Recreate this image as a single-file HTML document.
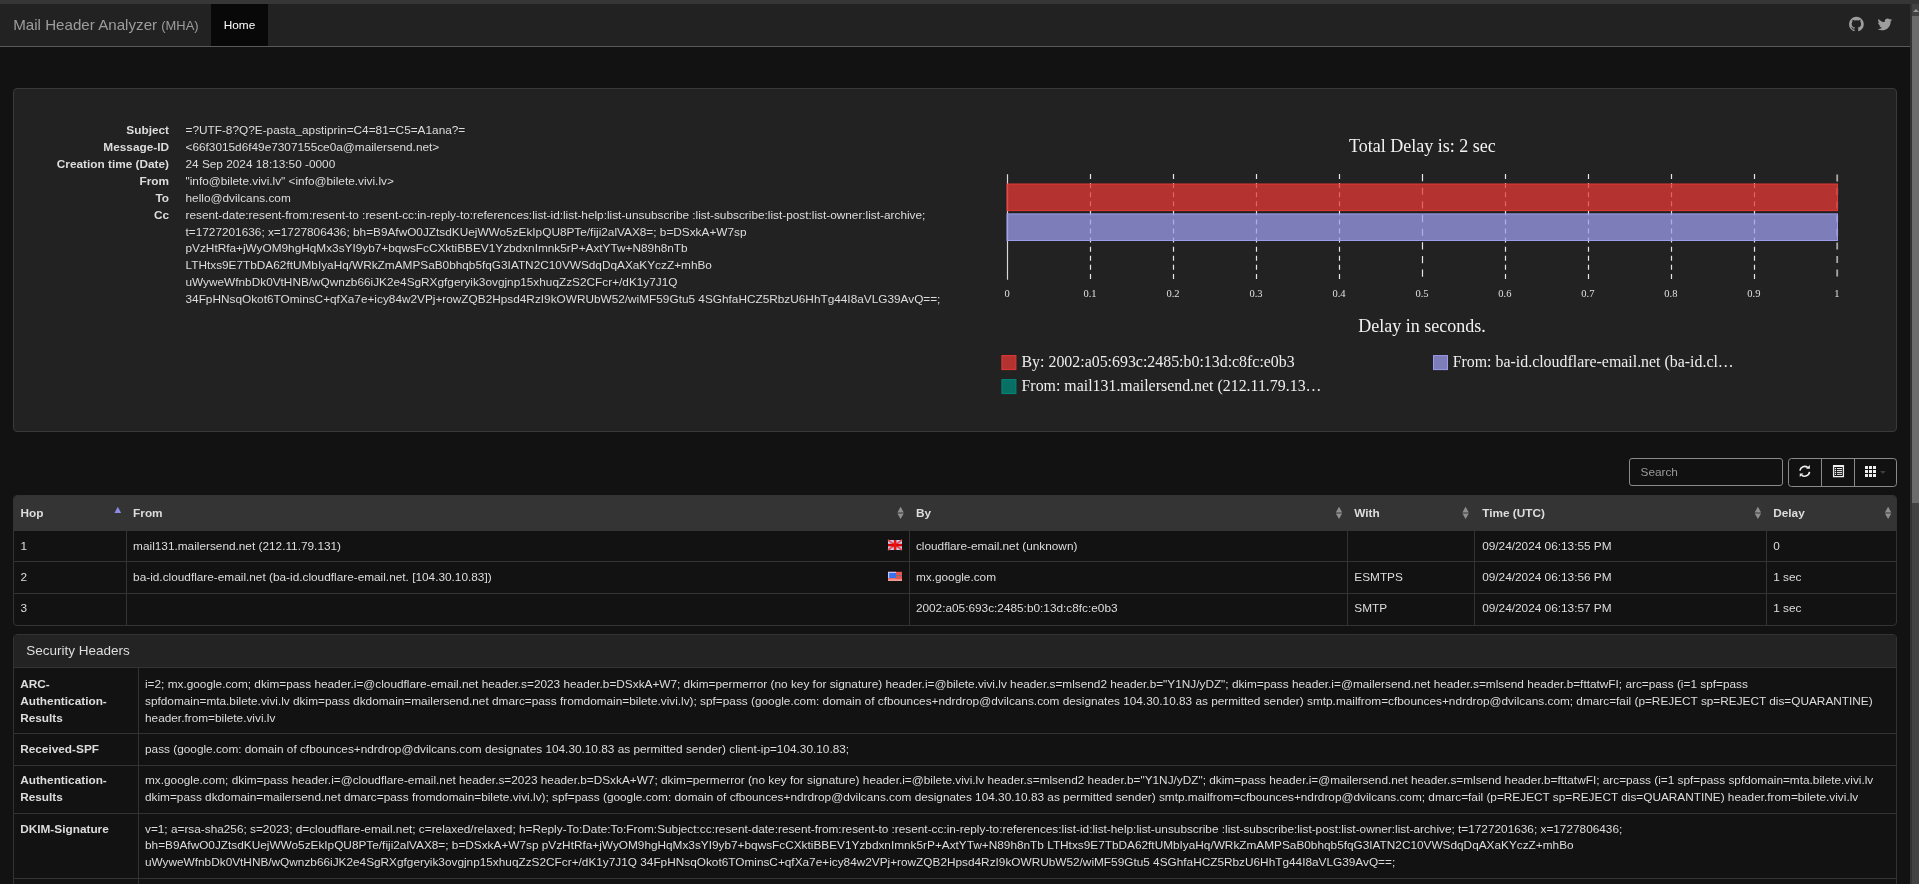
<!DOCTYPE html>
<html><head><meta charset="utf-8"><title>Mail Header Analyzer</title>
<style>
*{box-sizing:border-box}
html,body{margin:0;padding:0}
body{width:1919px;height:884px;overflow:hidden;position:relative;background:#121212;color:#ddd;font-family:"Liberation Sans",sans-serif;font-size:11.82px;line-height:16.886px}
.abs{position:absolute}
#root{position:absolute;left:0;top:0;width:1919px;height:884px;will-change:transform}
#strip{left:0;top:0;width:1919px;height:4px;background:#363636}
#nav{left:0;top:4px;width:1910px;height:42px;background:#222}
#navb{left:0;top:46px;width:1910px;height:1px;background:#5a5a5a}
#brand{left:13.2px;top:4px;height:42px;line-height:42px;font-size:15.15px;color:#9d9d9d;white-space:nowrap}
#brand small{font-size:12.9px}
#home{left:211px;top:4px;width:57px;height:42px;background:#080808;color:#fff;text-align:center;line-height:42px}
#sb{left:1910px;top:4px;width:9px;height:880px;background:#424242}
#sbedge{left:1910px;top:4px;width:2px;height:880px;background:#333}
#sbthumb{left:1912px;top:16px;width:7px;height:487px;background:#6b6b6b}
#sbarrow{left:1912.5px;top:8.5px;width:0;height:0;border-left:3.5px solid transparent;border-right:3.5px solid transparent;border-bottom:3.5px solid #9a9a9a}
#panel{left:13px;top:88px;width:1884px;height:344px;background:#222;border:1px solid #3a3a3a;border-radius:4px}
.dt{position:absolute;left:20px;width:149px;text-align:right;font-weight:bold;white-space:nowrap}
.dd{position:absolute;left:185.5px;white-space:nowrap}
#search{left:1629px;top:458px;width:154px;height:28px;border:1px solid #8a8a8a;border-radius:3px;background:#111;color:#999;padding-left:10.5px;line-height:26px}
#btns{left:1788px;top:458px;width:109px;height:29px;border:1px solid #8a8a8a;border-radius:3.5px;background:#111}
#tbl{left:13px;top:495px;width:1884px;height:130.5px;border:1px solid #333;border-radius:4px;overflow:hidden;background:#121212}
#thead{left:0;top:0;width:1882px;height:35px;background:#343434}
.th{position:absolute;font-weight:bold;white-space:nowrap}
.td{position:absolute;white-space:nowrap}
.vl{position:absolute;width:1px;background:#333}
.hl{position:absolute;height:1px;background:#333}
#sec{left:13px;top:634px;width:1884px;height:260px;border:1px solid #333;border-radius:4px;background:#121212;overflow:hidden}
#sech{left:0;top:0;width:1882px;height:33px;background:#232323;border-bottom:1px solid #333}
#sect{left:26.2px;top:641px;font-size:13.5px;line-height:20px;white-space:nowrap}
.sl{position:absolute;left:20.2px;font-weight:bold;white-space:nowrap;line-height:16.9px}
.sv{position:absolute;left:145px;white-space:nowrap;line-height:16.9px}
</style></head><body>
<div id="root">
<div id="strip" class="abs"></div>
<div id="nav" class="abs"></div>
<div id="navb" class="abs"></div>
<div id="brand" class="abs">Mail Header Analyzer <small>(MHA)</small></div>
<div id="home" class="abs">Home</div>
<svg class="abs" style="left:0;top:0" width="1919" height="60" viewBox="0 0 1919 60">
<path fill="#9d9d9d" transform="translate(1849.027,15.581) scale(0.0096)" d="M768 128q209 0 385.5 103t279.5 279.5 103 385.5q0 251-146.5 451.5t-378.5 277.5q-27 5-40-7t-13-30q0-3 .5-76.5t.5-134.5q0-97-52-142 57-6 102.5-18t94-39 81-66.5 53-105 20.5-150.5q0-119-79-206 37-91-8-204-28-9-81 11t-92 44l-38 24q-93-26-192-26t-192 26q-16-11-42.5-27t-83.5-38.5-85-13.5q-45 113-8 204-79 87-79 206 0 85 20.5 150t52.5 105 80.5 67 94 39 102.5 18q-39 36-49 103-21 10-45 15t-57 5-65.5-21.5-55.5-62.5q-19-32-48.5-52t-49.5-24l-20-3q-21 0-29 4.5t-5 11.5 9 14 13 12l7 5q22 10 43.5 38t31.5 51l10 23q13 38 44 61.5t67 30 69.5 7 55.5-3.5l23-4q0 38 .5 88.5t.5 54.5q0 18-13 30t-40 7q-232-77-378.5-277.5t-146.5-451.5q0-209 103-385.5t279.5-279.5 385.5-103zm-477 1103q3-7-7-12-10-3-13 2-3 7 7 12 9 6 13-2zm31 34q7-5-2-16-10-9-16-3-7 5 2 16 10 10 16 3zm30 45q9-7 0-19-8-13-17-6-9 5 0 18t17 7zm42 42q8-8-4-19-12-12-20-3-9 8 4 19 12 12 20 3zm57 25q3-11-13-16-15-4-19 7t13 15q15 6 19-6zm63 5q0-13-17-11-16 0-16 11 0 13 17 11 16 0 16-11zm58-10q-2-11-18-9-16 3-14 15t18 8 14-14z"/>
<path fill="#9d9d9d" transform="translate(1877.196,16.107) scale(0.0092)" d="M1620 408q-67 98-162 167 1 14 1 42 0 130-38 259.5t-115.5 248.5-184.5 210.5-258 146-323 54.5q-271 0-496-145 35 4 78 4 225 0 401-138-105-2-188-64.5t-114-159.5q33 5 61 5 43 0 85-11-112-23-185.5-111.5t-73.5-205.5v-4q68 38 146 41-66-44-105-115t-39-154q0-88 44-163 121 149 294.5 238.5t371.5 99.5q-8-38-8-74 0-134 94.5-228.5t228.5-94.5q140 0 236 102 109-21 205-78-37 115-142 178 93-10 186-50z"/>
</svg>
<div id="panel" class="abs"></div>
<div class="dt" style="top:122px">Subject</div>
<div class="dd" style="top:122px">=?UTF-8?Q?E-pasta_apstiprin=C4=81=C5=A1ana?=</div>
<div class="dt" style="top:139px">Message-ID</div>
<div class="dd" style="top:139px">&lt;66f3015d6f49e7307155ce0a@mailersend.net&gt;</div>
<div class="dt" style="top:156px">Creation time (Date)</div>
<div class="dd" style="top:156px">24 Sep 2024 18:13:50 -0000</div>
<div class="dt" style="top:173px">From</div>
<div class="dd" style="top:173px">"info@bilete.vivi.lv" &lt;info@bilete.vivi.lv&gt;</div>
<div class="dt" style="top:190px">To</div>
<div class="dd" style="top:190px">hello@dvilcans.com</div>
<div class="dt" style="top:207px">Cc</div>
<div class="dd" style="top:207px">resent-date:resent-from:resent-to :resent-cc:in-reply-to:references:list-id:list-help:list-unsubscribe :list-subscribe:list-post:list-owner:list-archive;</div>
<div class="dd" style="top:224px">t=1727201636; x=1727806436; bh=B9AfwO0JZtsdKUejWWo5zEkIpQU8PTe/fiji2alVAX8=; b=DSxkA+W7sp</div>
<div class="dd" style="top:240px">pVzHtRfa+jWyOM9hgHqMx3sYI9yb7+bqwsFcCXktiBBEV1YzbdxnImnk5rP+AxtYTw+N89h8nTb</div>
<div class="dd" style="top:257px">LTHtxs9E7TbDA62ftUMbIyaHq/WRkZmAMPSaB0bhqb5fqG3IATN2C10VWSdqDqAXaKYczZ+mhBo</div>
<div class="dd" style="top:274px">uWyweWfnbDk0VtHNB/wQwnzb66iJK2e4SgRXgfgeryik3ovgjnp15xhuqZzS2CFcr+/dK1y7J1Q</div>
<div class="dd" style="top:291px">34FpHNsqOkot6TOminsC+qfXa7e+icy84w2VPj+rowZQB2Hpsd4RzI9kOWRUbW52/wiMF59Gtu5 4SGhfaHCZ5RbzU6HhTg44I8aVLG39AvQ==;</div>
<svg class="abs" style="left:0;top:0" width="1919" height="884" viewBox="0 0 1919 884">
<text x="1422.4" y="151.9" font-family="Liberation Serif" font-size="18" fill="#f2f2f2" text-anchor="middle">Total Delay is: 2 sec</text>
<line x1="1090.5" y1="174" x2="1090.5" y2="279.5" stroke="#e6e6e6" stroke-width="1.2" stroke-dasharray="5 4.08"/>
<line x1="1173.5" y1="174" x2="1173.5" y2="279.5" stroke="#e6e6e6" stroke-width="1.2" stroke-dasharray="5 4.08"/>
<line x1="1256.5" y1="174" x2="1256.5" y2="279.5" stroke="#e6e6e6" stroke-width="1.2" stroke-dasharray="5 4.08"/>
<line x1="1339.5" y1="174" x2="1339.5" y2="279.5" stroke="#e6e6e6" stroke-width="1.2" stroke-dasharray="5 4.08"/>
<line x1="1422.5" y1="174" x2="1422.5" y2="279.5" stroke="#e6e6e6" stroke-width="1.2" stroke-dasharray="7.2 6.46"/>
<line x1="1505.5" y1="174" x2="1505.5" y2="279.5" stroke="#e6e6e6" stroke-width="1.2" stroke-dasharray="5 4.08"/>
<line x1="1588.5" y1="174" x2="1588.5" y2="279.5" stroke="#e6e6e6" stroke-width="1.2" stroke-dasharray="5 4.08"/>
<line x1="1671.5" y1="174" x2="1671.5" y2="279.5" stroke="#e6e6e6" stroke-width="1.2" stroke-dasharray="5 4.08"/>
<line x1="1754.5" y1="174" x2="1754.5" y2="279.5" stroke="#e6e6e6" stroke-width="1.2" stroke-dasharray="5 4.08"/>
<line x1="1837.2" y1="174.4" x2="1837.2" y2="279.5" stroke="#a8a8a8" stroke-width="1.8" stroke-dasharray="7 6.6"/>
<line x1="1007.5" y1="174.2" x2="1007.5" y2="279.7" stroke="#d8d8d8" stroke-width="1.2"/>
<rect x="1007" y="184" width="830.5" height="26.6" fill="#e53935" fill-opacity="0.75" stroke="#e53935" stroke-width="1"/>
<rect x="1007" y="213.9" width="830.5" height="26.6" fill="#9c9cec" fill-opacity="0.75" stroke="#9c9cec" stroke-width="1"/>
<g font-family="Liberation Serif" font-size="10.5" fill="#e0e0e0" text-anchor="middle">
<text x="1007.0" y="296.9">0</text>
<text x="1090.0" y="296.9">0.1</text>
<text x="1173.0" y="296.9">0.2</text>
<text x="1256.0" y="296.9">0.3</text>
<text x="1339.0" y="296.9">0.4</text>
<text x="1422.0" y="296.9">0.5</text>
<text x="1504.9" y="296.9">0.6</text>
<text x="1587.9" y="296.9">0.7</text>
<text x="1670.9" y="296.9">0.8</text>
<text x="1753.9" y="296.9">0.9</text>
<text x="1836.9" y="296.9">1</text>
</g>
<text x="1422" y="331.8" font-family="Liberation Serif" font-size="18" fill="#f2f2f2" text-anchor="middle">Delay in seconds.</text>
<rect x="1001.9" y="355.6" width="14" height="14" fill="#e53935" fill-opacity="0.75" stroke="#e53935" stroke-width="1"/>
<rect x="1001.9" y="379.6" width="14" height="14" fill="#00897b" fill-opacity="0.75" stroke="#00897b" stroke-width="1"/>
<rect x="1433.5" y="355.6" width="14" height="14" fill="#9c9cec" fill-opacity="0.75" stroke="#9c9cec" stroke-width="1"/>
<g font-family="Liberation Serif" font-size="15.9" fill="#eeeeee">
<text x="1021.5" y="367">By: 2002:a05:693c:2485:b0:13d:c8fc:e0b3</text>
<text x="1021.5" y="390.7">From: mail131.mailersend.net (212.11.79.13…</text>
<text x="1452.7" y="367">From: ba-id.cloudflare-email.net (ba-id.cl…</text>
</g></svg>
<div id="search" class="abs">Search</div>
<div id="btns" class="abs"></div>
<svg class="abs" style="left:1788px;top:458px" width="109" height="29" viewBox="0 0 109 29">
<line x1="33.5" y1="0.5" x2="33.5" y2="28.5" stroke="#8a8a8a" stroke-width="1"/>
<line x1="66.5" y1="0.5" x2="66.5" y2="28.5" stroke="#8a8a8a" stroke-width="1"/>
<g fill="none" stroke="#eee" stroke-width="1.6">
<path d="M11.9 12.7A4.9 4.9 0 0 1 19.85 9.55"/>
<path d="M21.55 13.9A4.9 4.9 0 0 1 13.55 17.05"/>
</g>
<path fill="#eee" d="M18.1 10.85H21.85V7.1z M11.75 15.4H15.4L11.75 19.1z"/>
<path fill="#eee" fill-rule="evenodd" d="M44.95 6.95h11.1v12.25h-11.1z M46.25 9.0v8.9h8.5v-8.9z"/>
<g fill="#eee">
<rect x="46.9" y="9.9" width="1.2" height="1.2"/><rect x="46.9" y="11.85" width="1.2" height="1.2"/><rect x="46.9" y="13.8" width="1.2" height="1.2"/><rect x="46.9" y="15.75" width="1.2" height="1.2"/>
<rect x="49" y="10" width="5" height="1"/><rect x="49" y="11.95" width="5" height="1"/><rect x="49" y="13.9" width="5" height="1"/><rect x="49" y="15.85" width="5" height="1"/>
</g>
<g fill="#eee">
<rect x="77" y="8" width="3" height="3"/><rect x="81" y="8" width="3" height="3"/><rect x="85" y="8" width="3" height="3"/>
<rect x="77" y="12" width="3" height="3"/><rect x="81" y="12" width="3" height="3"/><rect x="85" y="12" width="3" height="3"/>
<rect x="77" y="16" width="3" height="3"/><rect x="81" y="16" width="3" height="3"/><rect x="85" y="16" width="3" height="3"/>
</g>
<path fill="#3e3e3e" d="M92.1 13.1h5.6l-2.8 2.8z"/>
</svg>
<div id="tbl" class="abs"><div id="thead" class="abs"></div></div>
<div class="vl" style="left:125.7px;top:496px;height:129px"></div>
<div class="vl" style="left:908.5px;top:496px;height:129px"></div>
<div class="vl" style="left:1346.9px;top:496px;height:129px"></div>
<div class="vl" style="left:1473.5px;top:496px;height:129px"></div>
<div class="vl" style="left:1765.8px;top:496px;height:129px"></div>
<div class="hl" style="left:14px;top:530.1px;width:1882px"></div>
<div class="hl" style="left:14px;top:561.1px;width:1882px"></div>
<div class="hl" style="left:14px;top:592.5px;width:1882px"></div>
<div class="th" style="left:20.4px;top:505.00px">Hop</div>
<div class="th" style="left:133.1px;top:505.00px">From</div>
<div class="th" style="left:915.9px;top:505.00px">By</div>
<div class="th" style="left:1354.3px;top:505.00px">With</div>
<div class="th" style="left:1482.2px;top:505.00px">Time (UTC)</div>
<div class="th" style="left:1773.2px;top:505.00px">Delay</div>
<svg class="abs" style="left:0;top:0" width="1919" height="884" viewBox="0 0 1919 884">
<path fill="#8c8ce6" d="M114.5 512.9h6.6l-3.3-6.1z"/>
<path fill="#8f8f8f" d="M897.4 512.4h6.4l-3.2-5.6z M897.4 513.4h6.4l-3.2 5.6z"/>
<path fill="#8f8f8f" d="M1335.8 512.4h6.4l-3.2-5.6z M1335.8 513.4h6.4l-3.2 5.6z"/>
<path fill="#8f8f8f" d="M1462.4 512.4h6.4l-3.2-5.6z M1462.4 513.4h6.4l-3.2 5.6z"/>
<path fill="#8f8f8f" d="M1754.7 512.4h6.4l-3.2-5.6z M1754.7 513.4h6.4l-3.2 5.6z"/>
<path fill="#8f8f8f" d="M1884.9 512.4h6.4l-3.2-5.6z M1884.9 513.4h6.4l-3.2 5.6z"/>
<g transform="translate(888,540)">
<rect width="14" height="10" fill="#c6cff8"/>
<path d="M0 0L14 10M14 0L0 10" stroke="#e05050" stroke-width="1.6"/>
<rect x="0" y="3.8" width="14" height="2.6" fill="#dd0000"/>
<rect x="5.8" y="0" width="2.6" height="10" fill="#ee1111"/>
</g>
<g transform="translate(888,571.8)">
<rect width="14" height="9.2" fill="#e85550"/>
<rect x="0" y="7.4" width="14" height="1.8" fill="#f59a90"/>
<rect x="8" y="3.2" width="6" height="1.2" fill="#777"/>
<rect x="0" y="0" width="8" height="6.4" fill="#c0c6ff"/>
<rect x="1.2" y="1.2" width="6.8" height="5" fill="#3a70ec"/>
</g>
</svg>
<div class="td" style="left:20.4px;top:538px">1</div>
<div class="td" style="left:133.1px;top:538px">mail131.mailersend.net (212.11.79.131)</div>
<div class="td" style="left:915.9px;top:538px">cloudflare-email.net (unknown)</div>
<div class="td" style="left:1482.2px;top:538px">09/24/2024 06:13:55 PM</div>
<div class="td" style="left:1773.2px;top:538px">0</div>
<div class="td" style="left:20.4px;top:569px">2</div>
<div class="td" style="left:133.1px;top:569px">ba-id.cloudflare-email.net (ba-id.cloudflare-email.net. [104.30.10.83])</div>
<div class="td" style="left:915.9px;top:569px">mx.google.com</div>
<div class="td" style="left:1354.3px;top:569px">ESMTPS</div>
<div class="td" style="left:1482.2px;top:569px">09/24/2024 06:13:56 PM</div>
<div class="td" style="left:1773.2px;top:569px">1 sec</div>
<div class="td" style="left:20.4px;top:600px">3</div>
<div class="td" style="left:915.9px;top:600px">2002:a05:693c:2485:b0:13d:c8fc:e0b3</div>
<div class="td" style="left:1354.3px;top:600px">SMTP</div>
<div class="td" style="left:1482.2px;top:600px">09/24/2024 06:13:57 PM</div>
<div class="td" style="left:1773.2px;top:600px">1 sec</div>
<div id="sec" class="abs"><div id="sech" class="abs"></div></div>
<div id="sect" class="abs">Security Headers</div>
<div class="vl" style="left:137.8px;top:668px;height:216px"></div>
<div class="hl" style="left:14px;top:732.9px;width:1882px"></div>
<div class="hl" style="left:14px;top:764.5px;width:1882px"></div>
<div class="hl" style="left:14px;top:812.9px;width:1882px"></div>
<div class="hl" style="left:14px;top:877.7px;width:1882px"></div>
<div class="sl" style="top:676px">ARC-</div>
<div class="sl" style="top:693px">Authentication-</div>
<div class="sl" style="top:710px">Results</div>
<div class="sv" style="top:676px">i=2; mx.google.com; dkim=pass header.i=@cloudflare-email.net header.s=2023 header.b=DSxkA+W7; dkim=permerror (no key for signature) header.i=@bilete.vivi.lv header.s=mlsend2 header.b="Y1NJ/yDZ"; dkim=pass header.i=@mailersend.net header.s=mlsend header.b=fttatwFI; arc=pass (i=1 spf=pass</div>
<div class="sv" style="top:693px">spfdomain=mta.bilete.vivi.lv dkim=pass dkdomain=mailersend.net dmarc=pass fromdomain=bilete.vivi.lv); spf=pass (google.com: domain of cfbounces+ndrdrop@dvilcans.com designates 104.30.10.83 as permitted sender) smtp.mailfrom=cfbounces+ndrdrop@dvilcans.com; dmarc=fail (p=REJECT sp=REJECT dis=QUARANTINE)</div>
<div class="sv" style="top:710px">header.from=bilete.vivi.lv</div>
<div class="sl" style="top:741px">Received-SPF</div>
<div class="sv" style="top:741px">pass (google.com: domain of cfbounces+ndrdrop@dvilcans.com designates 104.30.10.83 as permitted sender) client-ip=104.30.10.83;</div>
<div class="sl" style="top:772px">Authentication-</div>
<div class="sl" style="top:789px">Results</div>
<div class="sv" style="top:772px">mx.google.com; dkim=pass header.i=@cloudflare-email.net header.s=2023 header.b=DSxkA+W7; dkim=permerror (no key for signature) header.i=@bilete.vivi.lv header.s=mlsend2 header.b="Y1NJ/yDZ"; dkim=pass header.i=@mailersend.net header.s=mlsend header.b=fttatwFI; arc=pass (i=1 spf=pass spfdomain=mta.bilete.vivi.lv</div>
<div class="sv" style="top:789px">dkim=pass dkdomain=mailersend.net dmarc=pass fromdomain=bilete.vivi.lv); spf=pass (google.com: domain of cfbounces+ndrdrop@dvilcans.com designates 104.30.10.83 as permitted sender) smtp.mailfrom=cfbounces+ndrdrop@dvilcans.com; dmarc=fail (p=REJECT sp=REJECT dis=QUARANTINE) header.from=bilete.vivi.lv</div>
<div class="sl" style="top:821px">DKIM-Signature</div>
<div class="sv" style="top:821px">v=1; a=rsa-sha256; s=2023; d=cloudflare-email.net; c=relaxed/relaxed; h=Reply-To:Date:To:From:Subject:cc:resent-date:resent-from:resent-to :resent-cc:in-reply-to:references:list-id:list-help:list-unsubscribe :list-subscribe:list-post:list-owner:list-archive; t=1727201636; x=1727806436;</div>
<div class="sv" style="top:837px">bh=B9AfwO0JZtsdKUejWWo5zEkIpQU8PTe/fiji2alVAX8=; b=DSxkA+W7sp pVzHtRfa+jWyOM9hgHqMx3sYI9yb7+bqwsFcCXktiBBEV1YzbdxnImnk5rP+AxtYTw+N89h8nTb LTHtxs9E7TbDA62ftUMbIyaHq/WRkZmAMPSaB0bhqb5fqG3IATN2C10VWSdqDqAXaKYczZ+mhBo</div>
<div class="sv" style="top:854px">uWyweWfnbDk0VtHNB/wQwnzb66iJK2e4SgRXgfgeryik3ovgjnp15xhuqZzS2CFcr+/dK1y7J1Q 34FpHNsqOkot6TOminsC+qfXa7e+icy84w2VPj+rowZQB2Hpsd4RzI9kOWRUbW52/wiMF59Gtu5 4SGhfaHCZ5RbzU6HhTg44I8aVLG39AvQ==;</div>
<div id="sb" class="abs"></div>
<div id="sbedge" class="abs"></div>
<div id="sbthumb" class="abs"></div>
<div id="sbarrow" class="abs"></div>
</div>
</body></html>
